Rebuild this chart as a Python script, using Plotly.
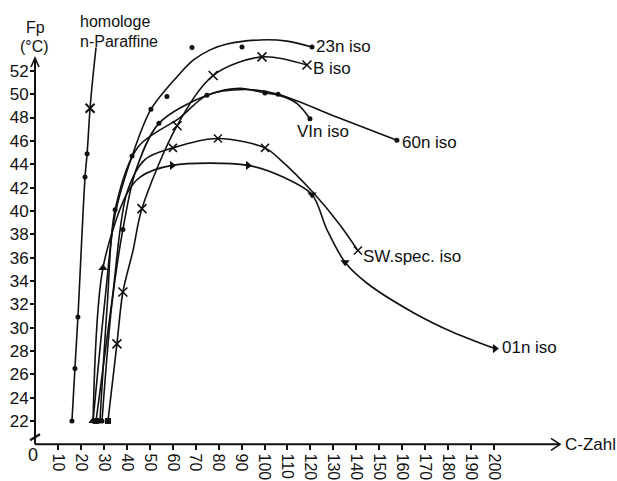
import plotly.graph_objects as go

# ---------------- data ----------------
# homologe n-Paraffine
npar_x = [16.1, 17.4, 18.7, 21.8, 22.7, 24.0, 25.3, 26.6]
npar_y = [22.0, 26.5, 30.9, 42.9, 44.9, 48.8, 51.6, 54.0]
npar_mk_x = [16.1, 17.4, 18.7, 21.8, 22.7]
npar_mk_y = [22.0, 26.5, 30.9, 42.9, 44.9]
npar_x_mk_x = [24.0]
npar_x_mk_y = [48.8]

# 23n iso (dots, fitted curve + scattered points)
c23_x = [25.3, 30.5, 34.9, 42.3, 50.5, 61.9, 68.8, 76.3, 83.7, 98.0, 109.8, 120.7]
c23_y = [22.0, 32.4, 39.7, 44.7, 48.7, 51.5, 52.9, 53.8, 54.3, 54.65, 54.55, 54.05]
c23_mk_x = [25.3, 42.3, 50.5, 57.5, 68.4, 90.2, 120.7]
c23_mk_y = [22.0, 44.7, 48.7, 49.8, 54.0, 54.05, 54.05]

# B iso (crosses)
b_x = [31.8, 35.7, 38.3, 42.7, 46.6, 61.9, 77.6, 98.9, 118.5]
b_y = [22.0, 28.6, 33.05, 36.6, 40.2, 47.3, 51.6, 53.2, 52.5]
b_mk_x = [35.7, 38.3, 46.6, 61.9, 77.6, 98.9, 118.5]
b_mk_y = [28.6, 33.05, 40.2, 47.3, 51.6, 53.2, 52.5]

# VIn iso (dots)
vi_x = [29.2, 33.5, 38.3, 44.0, 54.0, 74.9, 89.3, 100.2, 106.5, 114.2, 119.8]
vi_y = [22.0, 32.0, 38.4, 43.5, 47.5, 49.9, 50.5, 50.1, 49.9, 49.2, 47.9]
vi_mk_x = [29.2, 38.3, 54.0, 100.2, 119.8]
vi_mk_y = [22.0, 38.4, 47.5, 50.1, 47.9]

# 60n iso (dots)
s60_x = [28.3, 31.5, 34.9, 45.0, 63.2, 74.9, 91.5, 105.9, 132.0, 157.7]
s60_y = [22.0, 32.0, 40.1, 45.5, 48.0, 49.9, 50.4, 50.0, 48.0, 46.05]
s60_mk_x = [28.3, 34.9, 74.9, 105.9, 157.7]
s60_mk_y = [22.0, 40.1, 49.9, 50.0, 46.05]

# SW.spec. iso (crosses)
sw_x = [26.6, 33.6, 40.1, 47.9, 60.1, 79.7, 100.2, 106.8, 121.1, 132.9, 140.7]
sw_y = [22.0, 32.4, 41.6, 44.4, 45.4, 46.2, 45.4, 44.4, 41.6, 38.8, 36.6]
sw_mk_x = [60.1, 79.7, 100.2, 140.7]
sw_mk_y = [45.4, 46.2, 45.4, 36.6]

# 01n iso (triangles)
o1_x = [25.3, 29.6, 40.1, 45.8, 59.7, 92.8, 108.1, 120.7, 127.2, 135.1, 144.7, 164.7, 182.1, 200.4]
o1_y = [22.0, 35.1, 41.5, 42.9, 43.9, 43.9, 42.9, 41.4, 38.4, 35.6, 33.8, 31.3, 29.6, 28.2]
o1_mk_x = [25.3, 29.6, 59.7, 92.8, 120.7, 135.1, 200.4]
o1_mk_y = [22.0, 35.1, 43.9, 43.9, 41.4, 35.6, 28.2]
o1_mk_sym = ["triangle-up", "triangle-up", "triangle-right", "triangle-right",
             "triangle-down", "triangle-down", "triangle-right"]

# axis ticks
x_ticks = list(range(10, 201, 10))
x_tick_text = [str(v) for v in x_ticks]
y_ticks = list(range(22, 53, 2))
y_tick_text = [str(v) for v in y_ticks]

# curve labels: (text, x, y)
curve_labels = [
    ("23n iso", 121.6, 54.1),
    ("B iso", 120.3, 52.2),
    ("VIn iso", 113.3, 46.8),
    ("60n iso", 159.2, 45.9),
    ("SW.spec. iso", 142.0, 36.1),
    ("01n iso", 202.4, 28.3),
]

# ---------------- geometry ----------------
W, H = 617, 481
PX_X = 2.295      # px per C-unit
PX_Y = 11.67      # px per degree
X0_PX, Y20_PX = 35, 444.3
x_rng = [-X0_PX / PX_X, (W - X0_PX) / PX_X]
y_rng = [20 - (H - Y20_PX) / PX_Y, 20 + Y20_PX / PX_Y]

FONT = "Liberation Sans, Arial, sans-serif"
BLACK = "#111111"
LW = 1.6

fig = go.Figure()


def curve(xs, ys):
    fig.add_trace(go.Scatter(x=xs, y=ys, mode="lines",
                             line=dict(color=BLACK, width=LW, shape="spline", smoothing=0.9),
                             hoverinfo="skip", showlegend=False))


def marks(xs, ys, symbol, size, lw=0):
    fig.add_trace(go.Scatter(x=xs, y=ys, mode="markers",
                             marker=dict(symbol=symbol, size=size, color=BLACK,
                                         line=dict(color=BLACK, width=lw)),
                             hoverinfo="skip", showlegend=False))


curve(npar_x, npar_y)
marks(npar_mk_x, npar_mk_y, "circle", 5)
marks(npar_x_mk_x, npar_x_mk_y, "x-thin", 9, 2)

curve(c23_x, c23_y)
marks(c23_mk_x, c23_mk_y, "circle", 5)

curve(b_x, b_y)
marks(b_mk_x, b_mk_y, "x-thin", 9, 1.6)
marks([b_x[0]], [b_y[0]], "square", 6)

curve(vi_x, vi_y)
marks(vi_mk_x, vi_mk_y, "circle", 5)

curve(s60_x, s60_y)
marks(s60_mk_x, s60_mk_y, "circle", 5)

curve(sw_x, sw_y)
marks(sw_mk_x, sw_mk_y, "x-thin", 8, 1.5)
marks([sw_x[0]], [sw_y[0]], "square", 6)

curve(o1_x, o1_y)
marks(o1_mk_x, o1_mk_y, o1_mk_sym, 8)

# ---------------- axes ----------------
dx = lambda px: px / PX_X
dy = lambda px: px / PX_Y
x_tip = (560 - X0_PX) / PX_X
y_tip = 20 + (Y20_PX - 58) / PX_Y

shapes = [
    dict(type="line", x0=0, y0=20, x1=x_tip, y1=20, line=dict(color=BLACK, width=2)),
    dict(type="line", x0=0, y0=20, x1=0, y1=y_tip, line=dict(color=BLACK, width=2)),
    dict(type="path", path=f"M {x_tip-dx(9)},{20+dy(6)} L {x_tip},20 L {x_tip-dx(9)},{20-dy(6)}",
         line=dict(color=BLACK, width=1.6)),
    dict(type="path", path=f"M {-dx(4)},{y_tip-dy(9)} L 0,{y_tip} L {dx(4)},{y_tip-dy(9)}",
         line=dict(color=BLACK, width=1.6)),
    dict(type="line", x0=-dx(5), y0=20 + dy(4), x1=dx(5), y1=20 + dy(10),
         line=dict(color=BLACK, width=2.2)),
]

ann = []
for t, x, y in curve_labels:
    ann.append(dict(x=x, y=y, text=t, showarrow=False, xanchor="left", yanchor="middle",
                    font=dict(family=FONT, size=17, color=BLACK)))
ann += [
    dict(x=18.7, y=20 + dy(Y20_PX - 21), text="homologe", showarrow=False, xanchor="left",
         yanchor="middle", font=dict(family=FONT, size=16, color=BLACK)),
    dict(x=18.7, y=20 + dy(Y20_PX - 41), text="n-Paraffine", showarrow=False, xanchor="left",
         yanchor="middle", font=dict(family=FONT, size=16, color=BLACK)),
    dict(x=0.4, y=20 + dy(Y20_PX - 27), text="Fp", showarrow=False, xanchor="center",
         yanchor="middle", font=dict(family=FONT, size=16, color=BLACK)),
    dict(x=-0.3, y=20 + dy(Y20_PX - 46), text="(°C)", showarrow=False, xanchor="center",
         yanchor="middle", font=dict(family=FONT, size=16, color=BLACK)),
    dict(x=-0.8, y=20 - dy(455 - Y20_PX), text="0", showarrow=False, xanchor="center",
         yanchor="middle", font=dict(family=FONT, size=18, color=BLACK)),
    dict(x=(563 - X0_PX) / PX_X, y=20, text="C-Zahl", showarrow=False, xanchor="left",
         yanchor="middle", font=dict(family=FONT, size=17, color=BLACK)),
]

fig.update_layout(
    template="none",
    width=W, height=H,
    margin=dict(l=0, r=0, t=0, b=0),
    paper_bgcolor="white", plot_bgcolor="white",
    showlegend=False,
    xaxis=dict(range=x_rng, anchor="free", position=(H - Y20_PX) / H,
               showgrid=False, zeroline=False, showline=False,
               tickmode="array", tickvals=x_ticks, ticktext=x_tick_text,
               ticks="outside", ticklen=5, tickwidth=1.5, tickcolor=BLACK,
               tickangle=90, tickfont=dict(family=FONT, size=16, color=BLACK),
               automargin=False, fixedrange=True),
    yaxis=dict(range=y_rng, anchor="free", position=X0_PX / W,
               showgrid=False, zeroline=False, showline=False,
               tickmode="array", tickvals=y_ticks, ticktext=y_tick_text,
               ticks="outside", ticklen=5, tickwidth=1.5, tickcolor=BLACK,
               ticklabelstandoff=-2,
               tickfont=dict(family=FONT, size=17, color=BLACK),
               automargin=False, fixedrange=True),
    yaxis2=dict(range=y_rng, overlaying="y", anchor="free", position=X0_PX / W,
                showgrid=False, zeroline=False, showline=False,
                tickmode="array", tickvals=y_ticks, showticklabels=False,
                ticks="inside", ticklen=5, tickwidth=1.5, tickcolor=BLACK,
                automargin=False, fixedrange=True),
    shapes=shapes,
    annotations=ann,
)

fig.write_html("out.html")
